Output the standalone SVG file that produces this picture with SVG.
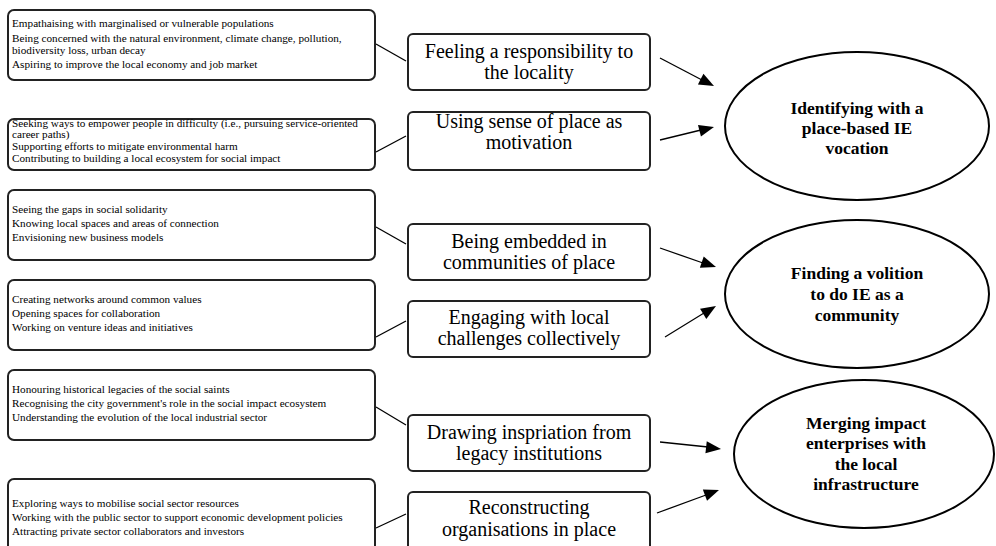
<svg xmlns="http://www.w3.org/2000/svg" width="996" height="546" viewBox="0 0 996 546">
<style>
.lb{fill:#fff;stroke:#222;stroke-width:2}
.mb{fill:#fff;stroke:#222;stroke-width:2}
.el{fill:#fff;stroke:#000;stroke-width:2}
text{font-family:'Liberation Serif','Times New Roman','DejaVu Serif',serif;fill:#000}
.lt{font-size:11.2px}
.mt{font-size:20px;text-anchor:middle}
.et{font-size:17.5px;font-weight:bold;text-anchor:middle}
.ln{stroke:#000;stroke-width:1.3;fill:none}
.ar{stroke:#000;stroke-width:1.3;fill:none}
.ah{fill:#000;stroke:none}
</style>
<rect width="996" height="546" fill="#fff"/>

<g id="connectors">
<line class="ln" x1="376" y1="44" x2="406" y2="61"/>
<line class="ln" x1="376" y1="152" x2="406" y2="136"/>
<line class="ln" x1="376" y1="227" x2="406" y2="244"/>
<line class="ln" x1="376" y1="337" x2="406" y2="321"/>
<line class="ln" x1="376" y1="407" x2="406" y2="425"/>
<line class="ln" x1="376" y1="528" x2="406" y2="514"/>
<g>
<line class="ar" x1="660" y1="58" x2="702" y2="80"/>
<polygon class="ah" points="0,0 -15,-6 -15,6" transform="translate(714,86) rotate(27.4)"/>
</g>
<g>
<line class="ar" x1="660" y1="140" x2="701" y2="130"/>
<polygon class="ah" points="0,0 -15,-6 -15,6" transform="translate(714,127) rotate(-14.3)"/>
</g>
<g>
<line class="ar" x1="660" y1="248" x2="703" y2="263"/>
<polygon class="ah" points="0,0 -15,-6 -15,6" transform="translate(716,267) rotate(18.7)"/>
</g>
<g>
<line class="ar" x1="665" y1="337" x2="704" y2="313"/>
<polygon class="ah" points="0,0 -15,-6 -15,6" transform="translate(716,306) rotate(-31.3)"/>
</g>
<g>
<line class="ar" x1="660" y1="442" x2="708" y2="447"/>
<polygon class="ah" points="0,0 -15,-6 -15,6" transform="translate(721,449) rotate(6.5)"/>
</g>
<g>
<line class="ar" x1="657" y1="513" x2="706" y2="495"/>
<polygon class="ah" points="0,0 -15,-6 -15,6" transform="translate(719,490) rotate(-20.4)"/>
</g>
</g>

<g id="d1">
<rect class="lb" x="8" y="10" width="367" height="70" rx="6"/>
<text class="lt" x="12" y="27">Empathaising with marginalised or vulnerable populations</text>
<text class="lt" x="12" y="42">Being concerned with the natural environment, climate change, pollution,</text>
<text class="lt" x="12" y="53.5">biodiversity loss, urban decay</text>
<text class="lt" x="12" y="68">Aspiring to improve the local economy and job market</text>
</g>
<g id="d2">
<rect class="lb" x="8" y="119" width="367" height="51" rx="6"/>
<text class="lt" x="12" y="127">Seeking ways to empower people in difficulty (i.e., pursuing service-oriented</text>
<text class="lt" x="12" y="138">career paths)</text>
<text class="lt" x="12" y="150">Supporting efforts to mitigate environmental harm</text>
<text class="lt" x="12" y="162">Contributing to building a local ecosystem for social impact</text>
</g>
<g id="d3">
<rect class="lb" x="8" y="190" width="367" height="70" rx="6"/>
<text class="lt" x="12" y="213">Seeing the gaps in social solidarity</text>
<text class="lt" x="12" y="227">Knowing local spaces and areas of connection</text>
<text class="lt" x="12" y="241">Envisioning new business models</text>
</g>
<g id="d4">
<rect class="lb" x="8" y="280" width="367" height="70" rx="6"/>
<text class="lt" x="12" y="303">Creating networks around common values</text>
<text class="lt" x="12" y="317">Opening spaces for collaboration</text>
<text class="lt" x="12" y="331">Working on venture ideas and initiatives</text>
</g>
<g id="d5">
<rect class="lb" x="8" y="370" width="367" height="70" rx="6"/>
<text class="lt" x="12" y="393">Honouring historical legacies of the social saints</text>
<text class="lt" x="12" y="407">Recognising the city government's role in the social impact ecosystem</text>
<text class="lt" x="12" y="421">Understanding the evolution of the local industrial sector</text>
</g>
<g id="d6">
<rect class="lb" x="8" y="479" width="367" height="80" rx="6"/>
<text class="lt" x="12" y="507">Exploring ways to mobilise social sector resources</text>
<text class="lt" x="12" y="521">Working with the public sector to support economic development policies</text>
<text class="lt" x="12" y="535">Attracting private sector collaborators and investors</text>
</g>

<g id="m1">
<rect class="mb" x="408" y="34" width="242" height="56" rx="5"/>
<text class="mt" x="529" y="58">Feeling a responsibility to</text>
<text class="mt" x="529" y="79">the locality</text>
</g>
<g id="m2">
<rect class="mb" x="408" y="112" width="242" height="58" rx="5"/>
<text class="mt" x="529" y="128">Using sense of place as</text>
<text class="mt" x="529" y="149">motivation</text>
</g>
<g id="m3">
<rect class="mb" x="408" y="224" width="242" height="56" rx="5"/>
<text class="mt" x="529" y="248">Being embedded in</text>
<text class="mt" x="529" y="269">communities of place</text>
</g>
<g id="m4">
<rect class="mb" x="408" y="301" width="242" height="56" rx="5"/>
<text class="mt" x="529" y="324">Engaging with local</text>
<text class="mt" x="529" y="345">challenges collectively</text>
</g>
<g id="m5">
<rect class="mb" x="408" y="415" width="242" height="56" rx="5"/>
<text class="mt" x="529" y="439">Drawing inspriation from</text>
<text class="mt" x="529" y="460">legacy institutions</text>
</g>
<g id="m6">
<rect class="mb" x="408" y="492" width="242" height="66" rx="5"/>
<text class="mt" x="529" y="514">Reconstructing</text>
<text class="mt" x="529" y="536">organisations in place</text>
</g>

<g id="o1">
<ellipse class="el" cx="857" cy="126" rx="132" ry="74"/>
<text class="et" x="857" y="114">Identifying with a</text>
<text class="et" x="857" y="134">place-based IE</text>
<text class="et" x="857" y="154">vocation</text>
</g>
<g id="o2">
<ellipse class="el" cx="857" cy="294" rx="132" ry="74"/>
<text class="et" x="857" y="279">Finding a volition</text>
<text class="et" x="857" y="300">to do IE as a</text>
<text class="et" x="857" y="321">community</text>
</g>
<g id="o3">
<ellipse class="el" cx="864" cy="454" rx="130" ry="74"/>
<text class="et" x="866" y="429">Merging impact</text>
<text class="et" x="866" y="449">enterprises with</text>
<text class="et" x="866" y="470">the local</text>
<text class="et" x="866" y="490">infrastructure</text>
</g>
</svg>
